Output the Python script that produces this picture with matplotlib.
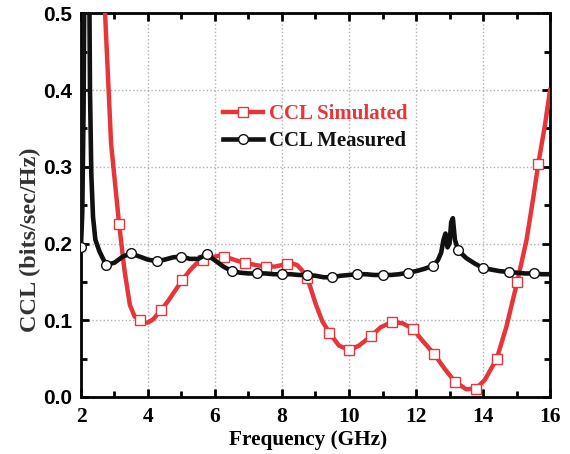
import matplotlib
matplotlib.use('Agg')
import matplotlib.pyplot as plt
from matplotlib.ticker import MultipleLocator

# Measured CCL (black)
freqMeas = [2.0, 2.04, 2.08, 2.11, 2.14, 2.21, 2.24, 2.27, 2.31, 2.36, 2.43, 2.55, 2.75,
            3.0, 3.25, 3.49, 3.75, 4.0, 4.26, 4.5, 4.75, 5.0, 5.25, 5.5, 5.75,
            6.0, 6.25, 6.5, 6.75, 7.0, 7.24, 7.5, 7.75, 8.01, 8.25, 8.5, 8.76,
            9.0, 9.25, 9.5, 9.75, 10.0, 10.25, 10.5, 10.75, 11.0, 11.25, 11.5, 11.75,
            12.0, 12.25, 12.5, 12.65, 12.75, 12.82, 12.88, 12.94, 13.0, 13.05, 13.1,
            13.16, 13.26, 13.5, 13.75, 14.0, 14.25, 14.5, 14.76, 15.0, 15.25, 15.52,
            15.75, 16.0]
cclMeas = [0.196, 0.24, 0.38, 0.6, 0.9, 0.9, 0.6, 0.4, 0.29, 0.235, 0.205, 0.19, 0.172,
           0.175, 0.183, 0.187, 0.183, 0.179, 0.177, 0.179, 0.182, 0.183, 0.180, 0.180, 0.186,
           0.178, 0.170, 0.164, 0.162, 0.161, 0.161, 0.161, 0.160, 0.160, 0.160, 0.159, 0.159,
           0.158, 0.156, 0.156, 0.158, 0.159, 0.160, 0.160, 0.159, 0.159, 0.159, 0.160, 0.162,
           0.164, 0.167, 0.171, 0.178, 0.188, 0.205, 0.213, 0.195, 0.200, 0.228, 0.233,
           0.205, 0.191, 0.181, 0.174, 0.168, 0.166, 0.164, 0.163, 0.162, 0.161, 0.161,
           0.160, 0.160]
measMarkers = [2.0, 2.75, 3.49, 4.26, 5.0, 5.75, 6.5, 7.24, 8.01, 8.76, 9.5, 10.25,
               11.0, 11.75, 12.5, 13.26, 14.0, 14.76, 15.52]

# Simulated CCL (red)
freqSim = [2.6, 2.72, 2.9, 3.14, 3.3, 3.46, 3.6, 3.76, 3.9, 4.0, 4.15, 4.39, 4.6, 4.8,
           5.02, 5.25, 5.45, 5.65, 5.9, 6.1, 6.27, 6.5, 6.7, 6.9, 7.2, 7.51, 7.8, 8.0,
           8.14, 8.3, 8.45, 8.6, 8.76, 9.0, 9.2, 9.41, 9.7, 10.01, 10.3, 10.65, 10.95,
           11.29, 11.6, 11.9, 12.2, 12.54, 12.85, 13.16, 13.5, 13.79, 14.05, 14.41, 14.7,
           15.02, 15.3, 15.5, 15.65, 15.85, 16.0]
cclSim = [0.6, 0.5, 0.33, 0.225, 0.165, 0.12, 0.105, 0.100, 0.097, 0.097, 0.101, 0.113, 0.125, 0.138,
          0.152, 0.165, 0.174, 0.179, 0.182, 0.184, 0.183, 0.180, 0.177, 0.175, 0.172, 0.170, 0.170, 0.172,
          0.173, 0.174, 0.172, 0.165, 0.155, 0.122, 0.099, 0.084, 0.067, 0.061, 0.067, 0.079, 0.091,
          0.098, 0.096, 0.089, 0.073, 0.056, 0.037, 0.020, 0.010, 0.011, 0.022, 0.050, 0.092,
          0.150, 0.205, 0.260, 0.304, 0.355, 0.400]
simMarkers = [3.14, 3.76, 4.39, 5.02, 5.65, 6.27, 6.9, 7.51, 8.14, 8.76, 9.41, 10.01,
              10.65, 11.29, 11.9, 12.54, 13.16, 13.79, 14.41, 15.02, 15.65]

red = '#e6363a'
serifBold = dict(family='Liberation Serif', weight='bold')

fig = plt.figure(figsize=(5.7, 4.54), dpi=100)
ax = fig.add_axes([0.142, 0.1256, 0.823, 0.845])

ax.plot(freqSim, cclSim, '-', color=red, linewidth=3.2, marker='s', markersize=6.5,
        markerfacecolor='white', markeredgecolor=red, markeredgewidth=1.0,
        markevery=[f in simMarkers for f in freqSim], label='CCL Simulated', zorder=3)
ax.plot(freqMeas, cclMeas, '-', color='#111111', linewidth=3.3, marker='o', markersize=7,
        markerfacecolor='white', markeredgecolor='#111111', markeredgewidth=1.0,
        markevery=[f in measMarkers for f in freqMeas], label='CCL Measured', zorder=4)

ax.set_xlim(2, 16)
ax.set_ylim(0, 0.5)
ax.xaxis.set_major_locator(MultipleLocator(2))
ax.xaxis.set_minor_locator(MultipleLocator(1))
ax.yaxis.set_major_locator(MultipleLocator(0.1))
ax.yaxis.set_minor_locator(MultipleLocator(0.05))
ax.set_yticklabels(['%.1f' % v for v in ax.get_yticks()])

ax.grid(which='major', linestyle=':', linewidth=1.0, color='#b0b0b0')
ax.tick_params(which='both', direction='in', top=True, right=True, width=2)
ax.tick_params(which='major', length=6)
ax.tick_params(which='minor', length=4)
ax.tick_params(axis='x', which='major', pad=7)
ax.tick_params(axis='y', which='major', pad=6.5)
for s in ax.spines.values():
    s.set_linewidth(2)

for t in ax.get_xticklabels():
    t.set_fontfamily('Liberation Serif')
    t.set_fontweight('bold')
    t.set_fontsize(15.5)
for t in ax.get_yticklabels():
    t.set_fontfamily('Liberation Sans')
    t.set_fontweight('bold')
    t.set_fontsize(15)

ax.set_xlabel('Frequency (GHz)', fontsize=15.3, labelpad=1, **serifBold)
ax.xaxis.set_label_coords(0.485, -0.085)
ax.set_ylabel('CCL (bits/sec/Hz)', fontsize=17.5, color='#333333', **serifBold)
ax.yaxis.set_label_coords(-0.085, 0.41)

leg = ax.legend(loc='upper left', bbox_to_anchor=(0.286, 0.785), frameon=False,
                borderaxespad=0, handlelength=1.9, handletextpad=0.3, labelspacing=0.35,
                prop=dict(family='Liberation Serif', weight='bold', size=15))
for text, line in zip(leg.get_texts(), leg.get_lines()):
    text.set_color(line.get_color())

fig.savefig('out.png', dpi=100)
